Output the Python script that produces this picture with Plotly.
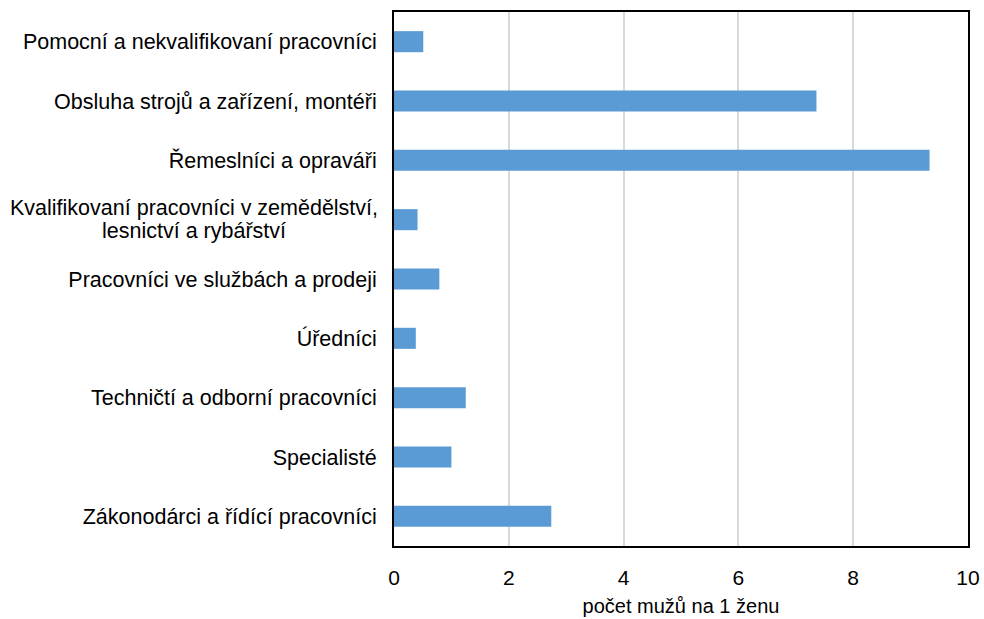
import plotly.graph_objects as go

categories = [
    "Zákonodárci a řídící pracovníci",
    "Specialisté",
    "Techničtí a odborní pracovníci",
    "Úředníci",
    "Pracovníci ve službách a prodeji",
    "Kvalifikovaní pracovníci v zemědělství,<br>lesnictví a rybářství",
    "Řemeslníci a opraváři",
    "Obsluha strojů a zařízení, montéři",
    "Pomocní a nekvalifikovaní pracovníci",
]
values = [2.74, 1.00, 1.25, 0.38, 0.79, 0.41, 9.33, 7.36, 0.51]
x_ticks = [0, 2, 4, 6, 8, 10]
x_title = "počet mužů na 1 ženu"

FONT = "Liberation Sans"
CAT_SIZE = 21.5
multi = [c for c in categories if "<br>" in c]
ticktext = ["" if c in multi else c for c in categories]

fig = go.Figure(go.Bar(
    x=values, y=categories, orientation="h",
    marker=dict(color="#5B9BD5", line=dict(width=0)),
))

fig.update_layout(
    width=984, height=619,
    margin=dict(l=394, r=16, t=12, b=73, autoexpand=False),
    paper_bgcolor="white", plot_bgcolor="white",
    bargap=0.645,
    showlegend=False,
    font=dict(family=FONT, size=20, color="#000000"),
)
fig.update_xaxes(
    range=[0, 10], tickvals=x_ticks, ticktext=[str(v) for v in x_ticks],
    showgrid=True, gridcolor="#D9D9D9", gridwidth=2,
    showline=True, linecolor="#000000", linewidth=2, mirror=True,
    zeroline=False, ticks="", ticklabelstandoff=12,
    ticklabeloverflow="allow", automargin=False,
    tickfont=dict(family=FONT, size=21),
    title=dict(text=x_title, font=dict(family=FONT, size=20), standoff=11),
)
fig.update_yaxes(
    categoryorder="array", categoryarray=categories,
    tickvals=categories, ticktext=ticktext,
    showgrid=False, showline=True, linecolor="#000000", linewidth=2, mirror=True,
    ticks="", ticklabelstandoff=11, automargin=False,
    tickfont=dict(family=FONT, size=CAT_SIZE),
)
for c in multi:
    lines = c.split("<br>")
    n = len(lines)
    for i, line in enumerate(lines):
        fig.add_annotation(
            x=0, xref="paper", xanchor="center", xshift=-200,
            y=c, yref="y", yanchor="middle",
            yshift=(n - 1) * 11.5 - i * 23,
            text=line, showarrow=False,
            font=dict(family=FONT, size=CAT_SIZE),
        )

fig.write_html("out.html", config={"displayModeBar": False},
               post_script="document.body.style.margin='0px';")
